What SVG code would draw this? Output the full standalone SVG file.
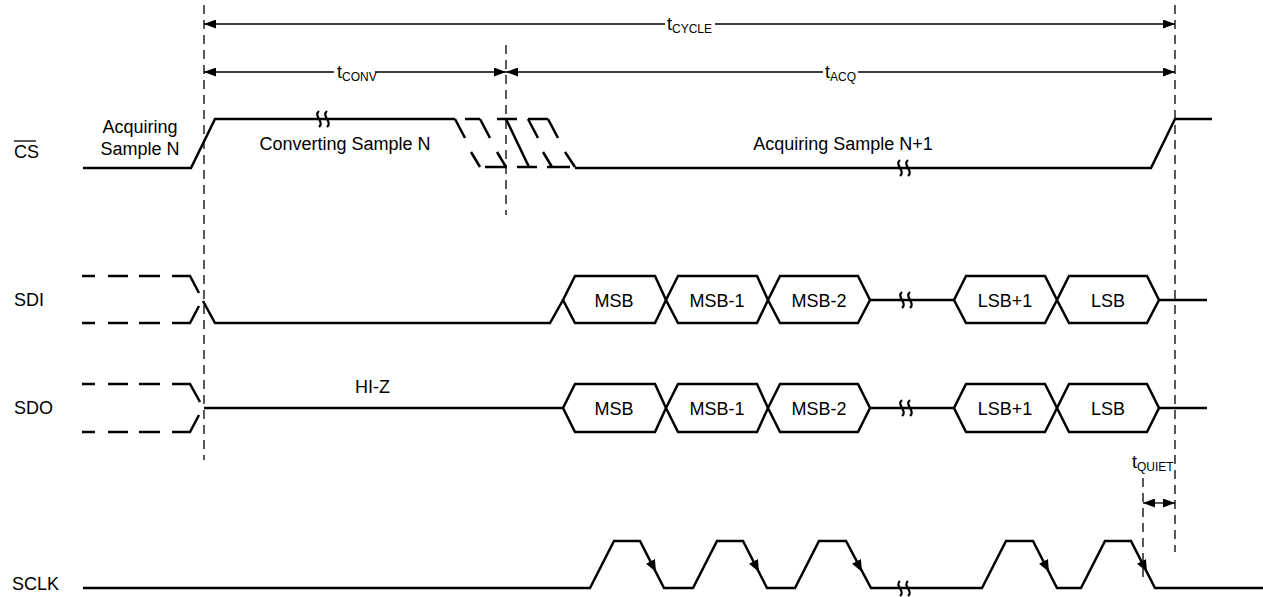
<svg xmlns="http://www.w3.org/2000/svg" width="1263" height="597" viewBox="0 0 1263 597">
<style>
.sig{fill:none;stroke:#000;stroke-width:2.5;stroke-linejoin:miter}
.bus{fill:#fff;stroke:#000;stroke-width:2.5;stroke-linejoin:miter}
.brk{fill:none;stroke:#000;stroke-width:2.2}
.guide{fill:none;stroke:#000;stroke-width:1.3;stroke-dasharray:9 6}
.dim{fill:none;stroke:#000;stroke-width:1.3}
.lbl{font-family:"Liberation Sans",Arial,Helvetica,sans-serif;font-size:18px;fill:#000}
.sub{font-size:12px}
.mid{text-anchor:middle}
.end{text-anchor:end}
</style>
<defs>
<marker id="ah" viewBox="0 0 12 9" refX="12" refY="4.5" markerWidth="12" markerHeight="9" markerUnits="userSpaceOnUse" orient="auto-start-reverse">
<path d="M0,0 L12,4.5 L0,9 z" fill="#000"/>
</marker>
<marker id="clk" viewBox="0 0 12 10" refX="12" refY="5" markerWidth="12" markerHeight="10" markerUnits="userSpaceOnUse" orient="auto">
<path d="M0,0 L12,5 L0,10 z" fill="#000"/>
</marker>
</defs>
<rect width="1263" height="597" fill="#fff"/>

<g id="connectors">
<path class="guide" d="M204,5 V460"/>
<path class="guide" d="M506,45 V215"/>
<path class="guide" d="M1175,5 V552"/>
<path class="guide" d="M1143,478 V583"/>
<path class="dim" d="M204,24 H665" marker-start="url(#ah)"/>
<path class="dim" d="M715,24 H1175" marker-end="url(#ah)"/>
<path class="dim" d="M204,72 H334" marker-start="url(#ah)"/>
<path class="dim" d="M375,72 H506" marker-end="url(#ah)"/>
<path class="dim" d="M506,72 H823" marker-start="url(#ah)"/>
<path class="dim" d="M858,72 H1175" marker-end="url(#ah)"/>
<path class="dim" d="M1143,503 H1175" marker-start="url(#ah)" marker-end="url(#ah)"/>
</g>

<g id="t-cycle"><text class="lbl" x="667" y="30">t<tspan class="sub" dy="3">CYCLE</tspan></text></g>
<g id="t-conv"><text class="lbl" x="337" y="78">t<tspan class="sub" dy="3">CONV</tspan></text></g>
<g id="t-acq"><text class="lbl" x="825" y="78">t<tspan class="sub" dy="3">ACQ</tspan></text></g>
<g id="t-quiet"><text class="lbl" x="1132" y="468">t<tspan class="sub" dy="3">QUIET</tspan></text></g>

<g id="cs">
<text class="lbl" x="14" y="158">CS</text>
<path class="dim" d="M14,141 H36"/>
<text class="lbl mid" x="140" y="133">Acquiring</text>
<text class="lbl mid" x="140" y="155">Sample N</text>
<text class="lbl mid" x="345" y="150">Converting Sample N</text>
<text class="lbl mid" x="843" y="150">Acquiring Sample N+1</text>
<path class="sig" d="M83,168 H191 L215,119 H455"/>
<path class="sig" d="M455,119 L465,138 M471,152 L480,167 M465,119 H480 M480,119 L490,138 M497,152 L506,167 M485,167 H507 M497,119 H517 M506,119 L529,167 M517,167 H537 M528,119 H548 M528,119 L538,138 M543,152 L552,167 M547,167 H570 M548,119 L558,138 M565,152 L575,167"/>
<path class="sig" d="M575,168 H1151 L1175,119 H1212"/>
<path class="brk" d="M319,111 C313,116 325,122 319,127 M327,111 C321,116 333,122 327,127"/>
<path class="brk" d="M900,160 C894,165 906,171 900,176 M908,160 C902,165 914,171 908,176"/>
</g>

<g id="sdi">
<text class="lbl" x="14" y="306">SDI</text>
<path class="sig" d="M82,276 H95 M108,276 H128 M139,276 H160 M172,276 H190 L199,293 M82,323 H95 M108,323 H128 M139,323 H160 M172,323 H190 L199,306 M203,301 L215,323 H550 L563,300"/>
<path class="bus" d="M563,300 L575,276 H655 L666,300 L655,323 H575 Z"/>
<path class="bus" d="M666,300 L678,276 H757 L768,300 L757,323 H678 Z"/>
<path class="bus" d="M768,300 L780,276 H858 L870,300 L858,323 H780 Z"/>
<path class="sig" d="M870,300 H954"/>
<path class="bus" d="M954,300 L966,276 H1045 L1057,300 L1045,323 H966 Z"/>
<path class="bus" d="M1057,300 L1069,276 H1147 L1159,300 L1147,323 H1069 Z"/>
<path class="sig" d="M1159,300 H1207"/>
<path class="brk" d="M902,292 C896,297 908,303 902,308 M910,292 C904,297 916,303 910,308"/>
<text class="lbl mid" x="614" y="307">MSB</text>
<text class="lbl mid" x="717" y="307">MSB-1</text>
<text class="lbl mid" x="819" y="307">MSB-2</text>
<text class="lbl mid" x="1005" y="307">LSB+1</text>
<text class="lbl mid" x="1108" y="307">LSB</text>
</g>

<g id="sdo">
<text class="lbl" x="14" y="414">SDO</text>
<text class="lbl" x="355" y="393">HI-Z</text>
<path class="sig" d="M82,384 H95 M108,384 H128 M139,384 H160 M172,384 H190 L200,402 M82,432 H95 M108,432 H128 M139,432 H160 M172,432 H190 L199,415 M204,408 H563"/>
<path class="bus" d="M563,408 L575,384 H655 L666,408 L655,432 H575 Z"/>
<path class="bus" d="M666,408 L678,384 H757 L768,408 L757,432 H678 Z"/>
<path class="bus" d="M768,408 L780,384 H858 L870,408 L858,432 H780 Z"/>
<path class="sig" d="M870,408 H954"/>
<path class="bus" d="M954,408 L966,384 H1045 L1057,408 L1045,432 H966 Z"/>
<path class="bus" d="M1057,408 L1069,384 H1147 L1159,408 L1147,432 H1069 Z"/>
<path class="sig" d="M1159,408 H1207"/>
<path class="brk" d="M902,400 C896,405 908,411 902,416 M910,400 C904,405 916,411 910,416"/>
<text class="lbl mid" x="614" y="415">MSB</text>
<text class="lbl mid" x="717" y="415">MSB-1</text>
<text class="lbl mid" x="819" y="415">MSB-2</text>
<text class="lbl mid" x="1005" y="415">LSB+1</text>
<text class="lbl mid" x="1108" y="415">LSB</text>
</g>

<g id="sclk">
<text class="lbl" x="12" y="590">SCLK</text>
<path class="sig" d="M83,588 H590 L614,541 H640 L664,588 H693 L717,541 H743 L767,588 H795 L819,541 H846 L871,588 H982 L1006,541 H1033 L1057,588 H1081 L1105,541 H1131 L1155,588 H1263"/>
<path fill="none" stroke="none" d="M640,541 L656,572" marker-end="url(#clk)"/>
<path fill="none" stroke="none" d="M743,541 L759,572" marker-end="url(#clk)"/>
<path fill="none" stroke="none" d="M846,541 L862,572" marker-end="url(#clk)"/>
<path fill="none" stroke="none" d="M1033,541 L1049,572" marker-end="url(#clk)"/>
<path fill="none" stroke="none" d="M1131,541 L1147,572" marker-end="url(#clk)"/>
<path class="brk" d="M900,581 C894,586 906,591 900,596 M908,581 C902,586 914,591 908,596"/>
</g>
</svg>
